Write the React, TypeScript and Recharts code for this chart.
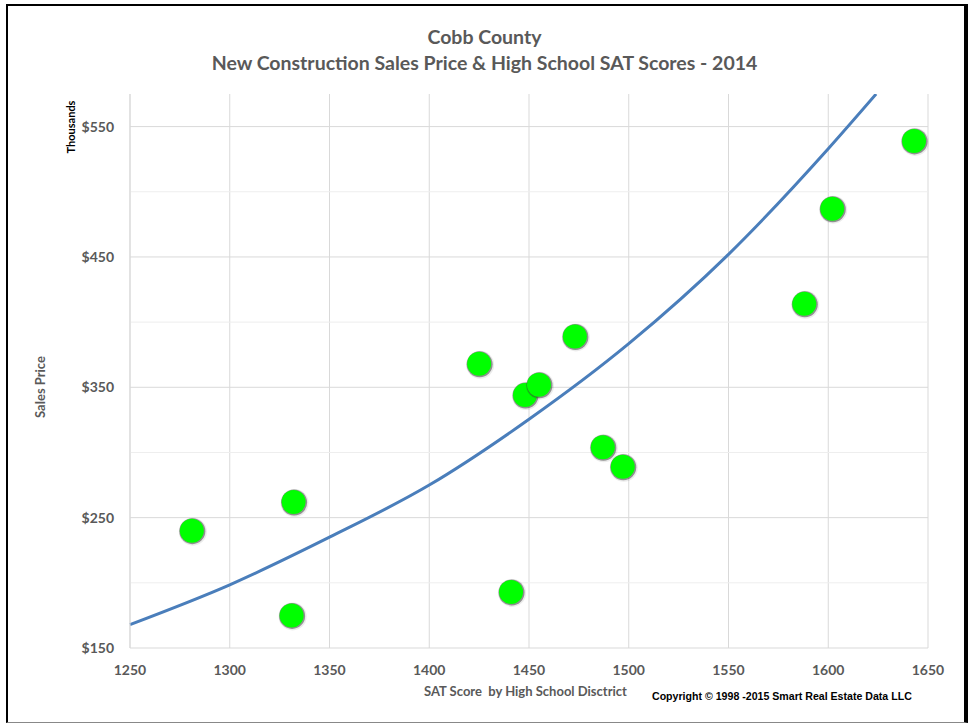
import React from 'react';
import { ComposedChart, Scatter, Line, XAxis, YAxis, CartesianGrid, ReferenceLine } from 'recharts';

// SAT score vs. new construction sales price ($ thousands)
const satScores = [1281, 1332, 1331, 1425, 1441, 1448, 1455, 1473, 1487, 1497, 1588, 1602, 1643];
const salesPrices = [240, 262, 175, 368, 193, 344, 352, 389, 304, 289, 414, 487, 539];

// trendline
const trendX = [1250, 1300, 1350, 1400, 1450, 1500, 1550, 1600, 1624];
const trendY = [168, 198.5, 235, 275, 325.5, 383.5, 452, 533, 575];

const xTicks = [1250, 1300, 1350, 1400, 1450, 1500, 1550, 1600, 1650];
const yTicks = [150, 250, 350, 450, 550];
const minorY = [200, 300, 400, 500];

const points = satScores.map((x, i) => ({ x, y: salesPrices[i] }));
const trend = trendX.map((x, i) => ({ x, y: trendY[i] }));

const font = 'Lato, "Open Sans", sans-serif';
const gray = '#595959';

const Ball = (props: any) => {
    const { cx, cy } = props;
    if (cx == null || cy == null) return null;
    return (
        <g>
            <circle cx={cx + 1} cy={cy + 1} r={14} fill="#000" opacity={0.08} />
            <circle cx={cx + 0.5} cy={cy + 0.5} r={13} fill="#444" opacity={0.55} />
            <circle cx={cx} cy={cy} r={12} fill="#00ff00" />
        </g>
    );
};

const App: React.FC = () => {
    return (
        <div style={{ position: 'relative', width: 969, height: 723, background: '#fff', fontFamily: font }}>
            <style>{'body{margin:0}'}</style>
            <div style={{ position: 'absolute', left: 6, top: 4, width: 956, height: 716, borderLeft: '2px solid #000', borderTop: '2px solid #000', borderRight: '4px solid #000', borderBottom: '1px solid #888' }} />
            <div style={{ position: 'absolute', left: 0, width: 969, top: 24, textAlign: 'center', color: gray, fontWeight: 700, fontSize: 19.5, lineHeight: '26px' }}>
                <div>Cobb County</div>
                <div>New Construction Sales Price &amp; High School SAT Scores - 2014</div>
            </div>
            <ComposedChart width={969} height={723} margin={{ top: 94, right: 41, bottom: 0, left: 0 }} style={{ position: 'absolute', left: 0, top: 0 }}>
                <CartesianGrid horizontal={false} stroke="#d9d9d9" />
                {minorY.map((v) => (
                    <ReferenceLine key={'m' + v} y={v} stroke="#eeeeee" />
                ))}
                {yTicks.slice(1).map((v) => (
                    <ReferenceLine key={'M' + v} y={v} stroke="#d9d9d9" />
                ))}
                <XAxis
                    type="number"
                    dataKey="x"
                    domain={[1250, 1650]}
                    ticks={xTicks}
                    height={75}
                    tickSize={0}
                    tickMargin={17}
                    axisLine={{ stroke: '#d9d9d9' }}
                    tick={{ fill: gray, fontSize: 14, fontWeight: 700, fontFamily: font }}
                />
                <YAxis
                    type="number"
                    domain={[150, 575]}
                    ticks={yTicks}
                    width={130}
                    tickSize={0}
                    tickMargin={16}
                    allowDataOverflow
                    axisLine={{ stroke: '#d9d9d9' }}
                    tickFormatter={(v: number) => '$' + v}
                    tick={{ fill: gray, fontSize: 14, fontWeight: 700, fontFamily: font }}
                />
                <Line data={trend} dataKey="y" type="monotone" stroke="#4a7ebb" strokeWidth={3} dot={false} isAnimationActive={false} />
                <Scatter data={points} dataKey="y" shape={Ball} isAnimationActive={false} />
            </ComposedChart>
            <div style={{ position: 'absolute', left: 40, top: 387, transform: 'translate(-50%,-50%) rotate(-90deg)', color: gray, fontSize: 13, fontWeight: 700, whiteSpace: 'nowrap' }}>
                Sales Price
            </div>
            <div style={{ position: 'absolute', left: 70, top: 127, transform: 'translate(-50%,-50%) rotate(-90deg)', color: '#000', fontSize: 11, fontWeight: 700, whiteSpace: 'nowrap' }}>
                Thousands
            </div>
            <div style={{ position: 'absolute', left: 424, top: 683, color: gray, fontSize: 13, fontWeight: 700, whiteSpace: 'pre' }}>
                {'SAT Score  by High School Disctrict'}
            </div>
            <div style={{ position: 'absolute', left: 652, top: 690, color: '#000', fontSize: 10.6, fontWeight: 700, fontFamily: '"Liberation Sans Narrow", "Liberation Sans", Arial, sans-serif', whiteSpace: 'nowrap' }}>
                Copyright © 1998 -2015 Smart Real Estate Data LLC
            </div>
        </div>
    );
};

export default App;
